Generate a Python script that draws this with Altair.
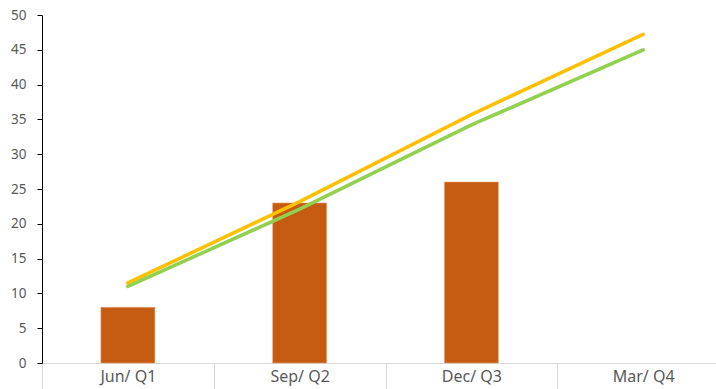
import altair as alt
import pandas as pd

# Quarter categories along the x axis
categories = ["Jun/ Q1", "Sep/ Q2", "Dec/ Q3", "Mar/ Q4"]

# Column values (no column for the last quarter)
bar_values = [8, 23, 26, None]

# Two trend lines
trend_yellow = [11.5, 23.2, 35.7, 47.2]
trend_green = [11.0, 22.1, 34.2, 45.0]

y_ticks = list(range(0, 51, 5))

bars_df = pd.DataFrame({"quarter": categories, "value": bar_values})
lines_df = pd.DataFrame(
    {
        "quarter": categories * 2,
        "value": trend_yellow + trend_green,
        "series": ["Yellow"] * 4 + ["Green"] * 4,
    }
)

FONT = "Noto Sans"
LABEL_GREY = "#595959"

x_enc = alt.X(
    "quarter:N",
    sort=categories,
    scale=alt.Scale(domain=categories, range=[0, 687], paddingInner=0, paddingOuter=0),
    axis=alt.Axis(
        title=None,
        labelAngle=0,
        labelFont=FONT,
        labelFontSize=16,
        labelColor=LABEL_GREY,
        labelPadding=-21,
        domainColor="#D9D9D9",
        tickColor="#D9D9D9",
        tickSize=26,
        tickBand="extent",
    ),
)

y_scale = alt.Scale(domain=[0, 50], nice=False, zero=True)
y_axis = alt.Axis(
    title=None,
    values=y_ticks,
    grid=False,
    labelFont=FONT,
    labelFontSize=13.5,
    labelColor=LABEL_GREY,
    labelPadding=11,
    domainColor="#000000",
    tickColor="#000000",
    tickSize=5,
)

bars = (
    alt.Chart(bars_df)
    .mark_bar(size=54, color="#C55A11", stroke="#E9A77D", strokeWidth=0.6)
    .encode(x=x_enc, y=alt.Y("value:Q", scale=y_scale, axis=y_axis))
)

lines = (
    alt.Chart(lines_df)
    .mark_line(strokeWidth=3.6, strokeCap="round")
    .encode(
        x=x_enc,
        y=alt.Y("value:Q", scale=y_scale, axis=y_axis),
        color=alt.Color(
            "series:N",
            scale=alt.Scale(domain=["Yellow", "Green"], range=["#FFC000", "#92D050"]),
            legend=None,
        ),
    )
)

chart = (
    alt.layer(bars, lines)
    .properties(
        width=674,
        height=348,
        autosize=alt.AutoSizeParams(type="none"),
        padding={"left": 42, "top": 15, "right": 0, "bottom": 26},
        background="white",
    )
    .configure_view(stroke=None)
)

chart.save("out.html", embed_options={"renderer": "svg", "actions": False})
